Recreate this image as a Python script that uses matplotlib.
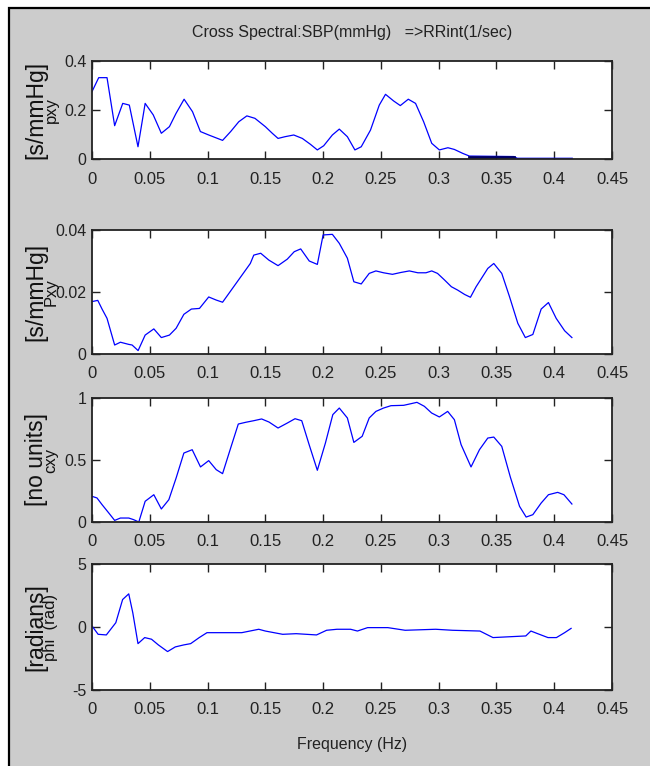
"""Cross spectral plot SBP -> RRint, four stacked panels (MATLAB look)."""

import matplotlib
matplotlib.use('Agg')
import matplotlib.pyplot as plt
from matplotlib.patches import Rectangle

SANS = ['Liberation Sans', 'DejaVu Sans']

# x axis
freq_ticks = [0, 0.05, 0.1, 0.15, 0.2, 0.25, 0.3, 0.35, 0.4, 0.45]
freq_labels = ['0', '0.05', '0.1', '0.15', '0.2', '0.25', '0.3', '0.35', '0.4', '0.45']

# panel 1: pxy
pxy_f = [0, 0.0058, 0.013, 0.0196, 0.0266, 0.0323, 0.0398, 0.046, 0.053, 0.060,
         0.067, 0.0727, 0.0797, 0.087, 0.0938, 0.101, 0.107, 0.113, 0.120, 0.127,
         0.134, 0.141, 0.150, 0.156, 0.161, 0.167, 0.1746, 0.182, 0.189, 0.195,
         0.2005, 0.208, 0.214, 0.221, 0.2275, 0.233, 0.241, 0.2486, 0.254, 0.261,
         0.2668, 0.2737, 0.280, 0.287, 0.294, 0.3006, 0.308, 0.3136, 0.3208, 0.3266,
         0.365, 0.368, 0.4156]
pxy_v = [0.275, 0.332, 0.332, 0.136, 0.227, 0.220, 0.050, 0.227, 0.180, 0.105,
         0.132, 0.186, 0.244, 0.193, 0.112, 0.098, 0.087, 0.076, 0.112, 0.152,
         0.176, 0.166, 0.132, 0.105, 0.084, 0.091, 0.098, 0.084, 0.060, 0.037,
         0.054, 0.098, 0.122, 0.091, 0.037, 0.050, 0.118, 0.220, 0.264, 0.237,
         0.218, 0.244, 0.227, 0.152, 0.064, 0.037, 0.046, 0.039, 0.023, 0.012,
         0.010, 0.003, 0.003]
# dark overdrawn piece near the baseline
pxy_dark_f = [0.3266, 0.365]
pxy_dark_v = [0.010, 0.010]

# panel 2: |Pxy|
mag_f = [0, 0.005, 0.0087, 0.013, 0.0196, 0.0246, 0.0318, 0.0347, 0.0399, 0.046,
         0.0535, 0.060, 0.067, 0.0728, 0.0795, 0.086, 0.093, 0.101, 0.1075, 0.113,
         0.137, 0.140, 0.146, 0.153, 0.161, 0.169, 0.175, 0.1806, 0.188, 0.195,
         0.200, 0.208, 0.214, 0.221, 0.2266, 0.233, 0.2399, 0.2457, 0.2523, 0.260,
         0.2673, 0.2746, 0.282, 0.289, 0.294, 0.299, 0.305, 0.311, 0.3165, 0.3225,
         0.3275, 0.3324, 0.3367, 0.3425, 0.3477, 0.3546, 0.3613, 0.3685, 0.375, 0.3815,
         0.3887, 0.395, 0.4017, 0.409, 0.4153]
mag_v = [0.0169, 0.0173, 0.0145, 0.0115, 0.0029, 0.0038, 0.0031, 0.0029, 0.0011, 0.0061,
         0.0081, 0.0053, 0.0061, 0.0083, 0.0128, 0.0145, 0.0147, 0.0184, 0.0174, 0.0167,
         0.0292, 0.0319, 0.0325, 0.0303, 0.0285, 0.0306, 0.0330, 0.0339, 0.0300, 0.0289,
         0.0384, 0.0386, 0.0357, 0.0309, 0.0233, 0.0226, 0.0260, 0.0268, 0.0262, 0.0257,
         0.0263, 0.0268, 0.0262, 0.0262, 0.0268, 0.0260, 0.0239, 0.0217, 0.0206, 0.0192,
         0.0183, 0.0217, 0.0242, 0.0276, 0.0292, 0.0260, 0.0185, 0.0099, 0.0053, 0.0063,
         0.0145, 0.0166, 0.0115, 0.0075, 0.0053]

# panel 3: coherence cxy
coh_f = [0, 0.0043, 0.0087, 0.0145, 0.0196, 0.0246, 0.0318, 0.036, 0.0405, 0.046,
         0.0535, 0.060, 0.0665, 0.0728, 0.0795, 0.0867, 0.0939, 0.101, 0.1075, 0.113,
         0.120, 0.1266, 0.133, 0.140, 0.1468, 0.1532, 0.161, 0.169, 0.1757, 0.1815,
         0.1879, 0.195, 0.202, 0.2084, 0.214, 0.221, 0.2266, 0.2338, 0.2399, 0.2457,
         0.2523, 0.2587, 0.2697, 0.276, 0.2812, 0.2876, 0.2939, 0.3006, 0.3078, 0.3136,
         0.3194, 0.328, 0.3353, 0.3425, 0.3477, 0.3546, 0.362, 0.370, 0.3757, 0.3815,
         0.3887, 0.395, 0.403, 0.4084, 0.4153]
coh_v = [0.207, 0.194, 0.140, 0.073, 0.013, 0.032, 0.032, 0.019, 0.0, 0.167,
         0.220, 0.105, 0.180, 0.355, 0.556, 0.583, 0.444, 0.495, 0.422, 0.390,
         0.597, 0.790, 0.804, 0.817, 0.831, 0.806, 0.758, 0.798, 0.833, 0.817,
         0.624, 0.417, 0.637, 0.866, 0.919, 0.839, 0.642, 0.691, 0.839, 0.892,
         0.919, 0.938, 0.941, 0.954, 0.965, 0.933, 0.879, 0.847, 0.892, 0.825,
         0.624, 0.444, 0.583, 0.677, 0.685, 0.610, 0.363, 0.126, 0.040, 0.059,
         0.153, 0.220, 0.239, 0.220, 0.145]

# panel 4: phase phi
phi_f = [0, 0.0053, 0.0124, 0.0206, 0.0265, 0.0318, 0.0353, 0.0398, 0.0456, 0.0515,
         0.0574, 0.0654, 0.0721, 0.0795, 0.0854, 0.0928, 0.0995, 0.1296, 0.1443, 0.150,
         0.165, 0.1767, 0.1943, 0.203, 0.212, 0.2238, 0.2297, 0.2385, 0.256, 0.271,
         0.2974, 0.312, 0.3357, 0.347, 0.3578, 0.3754, 0.3798, 0.3857, 0.3946, 0.4019,
         0.409, 0.4146]
phi_v = [0.08, -0.58, -0.63, 0.34, 2.18, 2.63, 1.13, -1.32, -0.84, -0.97,
         -1.42, -1.95, -1.58, -1.42, -1.32, -0.84, -0.45, -0.45, -0.18, -0.32,
         -0.58, -0.53, -0.63, -0.26, -0.18, -0.18, -0.32, -0.05, -0.05, -0.26,
         -0.18, -0.26, -0.32, -0.84, -0.79, -0.71, -0.32, -0.53, -0.84, -0.84,
         -0.45, -0.11]

# (y limits, y ticks, y tick labels, unit label, quantity label)
panels = [
    ((0, 0.4), [0, 0.2, 0.4], ['0', '0.2', '0.4'], '[s/mmHg]', 'pxy'),
    ((0, 0.04), [0, 0.02, 0.04], ['0', '0.02', '0.04'], '[s/mmHg]', 'Pxy'),
    ((0, 1), [0, 0.5, 1], ['0', '0.5', '1'], '[no units]', 'cxy'),
    ((-5, 5), [-5, 0, 5], ['-5', '0', '5'], '[radians]', 'phi  (rad)'),
]
series = [(pxy_f, pxy_v), (mag_f, mag_v), (coh_f, coh_v), (phi_f, phi_v)]

W, H = 650, 766
# axes boxes in pixels: (top, bottom)
boxes = [(61, 159), (230, 354), (398, 522), (564, 690)]
left_px, right_px = 92, 612

fig = plt.figure(figsize=(W / 100, H / 100), dpi=100)
fig.patch.set_facecolor('white')
fig.patches.append(Rectangle((9 / W, -0.05), 1.1, 1 - 8 / H + 0.05,
                             transform=fig.transFigure, facecolor='#cccccc',
                             edgecolor='black', linewidth=1.6, zorder=-10))

axes = []
for (top, bot), (ylim, yt, ytl, unit, qty), (f, v) in zip(boxes, panels, series):
    ax = fig.add_axes([left_px / W, 1 - bot / H, (right_px - left_px) / W, (bot - top) / H])
    ax.plot(f, v, color='#0000ff', linewidth=0.9)
    ax.set_xlim(0, 0.45)
    ax.set_ylim(*ylim)
    ax.set_xticks(freq_ticks)
    ax.set_xticklabels(freq_labels, family=SANS, fontsize=12)
    ax.set_yticks(yt)
    ax.set_yticklabels(ytl, family=SANS, fontsize=11.5)
    ax.tick_params(direction='in', top=True, right=True, length=5.5, width=1.0,
                   colors='#222222')
    ax.tick_params(axis='x', pad=9)
    ax.tick_params(axis='y', pad=4)
    for s in ax.spines.values():
        s.set_linewidth(1.3)
        s.set_color('#222222')
    yc = 1 - (top + bot) / 2 / H
    fig.text(36 / W, yc, unit, rotation=90, ha='center', va='center',
             family=SANS, fontsize=16.5, color='#111111')
    fig.text(51 / W, yc, qty, rotation=90, ha='center', va='center',
             family=SANS, fontsize=12, color='#111111')
    axes.append(ax)

axes[0].plot(pxy_dark_f, pxy_dark_v, color='#000066', linewidth=2.0)

fig.text(352 / W, 1 - 33 / H, 'Cross Spectral:SBP(mmHg)   =>RRint(1/sec)',
         ha='center', va='center', family=SANS, fontsize=11.5, color='#222222')
fig.text(352 / W, 1 - 745 / H, 'Frequency (Hz)', ha='center', va='center',
         family=SANS, fontsize=11.5, color='#222222')

fig.savefig('out.png', dpi=100, facecolor=fig.get_facecolor())
